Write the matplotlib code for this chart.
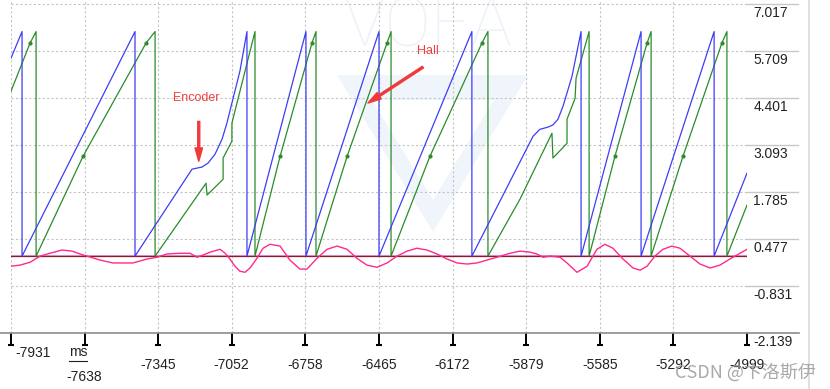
import matplotlib
matplotlib.use('Agg')
import matplotlib.pyplot as plt
import matplotlib.transforms as mtransforms
from matplotlib.lines import Line2D
from matplotlib.patches import Polygon

plt.rcParams['font.family'] = ['Liberation Sans', 'DejaVu Sans']

# axis ticks as VOFA+ shows them
xtick_labels = ['-7931', '-7638', '-7345', '-7052', '-6758', '-6465',
                '-6172', '-5879', '-5585', '-5292', '-4999']
ytick_values = [7.017, 5.709, 4.401, 3.093, 1.785, 0.477, -0.831, -2.139]

# encoder angle (blue)
enc_t = [-7931, -7887, -7887, -7437, -7437, -7210, -7170, -7146, -7118, -7090,
         -7071, -7051, -7019, -6991, -6991, -6756, -6756, -6465, -6465, -6095,
         -6095, -5851, -5824, -5792, -5772, -5752, -5732, -5716, -5696, -5660,
         -5660, -5421, -5421, -5130, -5130, -4999]
enc_v = [5.51, 6.25, 0.0, 6.25, 0.0, 2.42, 2.48, 2.59, 2.84, 3.26,
         3.70, 4.26, 5.15, 6.25, 0.0, 6.25, 0.0, 6.25, 0.0, 6.25,
         0.0, 3.34, 3.53, 3.59, 3.65, 3.81, 4.17, 4.54, 5.01, 6.25,
         0.0, 6.25, 0.0, 6.25, 0.0, 2.31]

# hall angle (green)
hall_t = [-7931, -7855, -7831, -7831, -7644, -7393, -7357, -7357, -7154, -7150,
          -7086, -7086, -7051, -7051, -6959, -6959, -6859, -6732, -6716, -6716,
          -6592, -6433, -6417, -6417, -6262, -6055, -6031, -6031, -5903, -5776,
          -5772, -5716, -5716, -5684, -5680, -5628, -5628, -5525, -5397, -5381,
          -5381, -5254, -5099, -5079, -5079, -4999]
hall_v = [4.59, 5.93, 6.25, 0.0, 2.78, 5.93, 6.25, 0.0, 2.03, 1.70,
          2.14, 2.73, 3.20, 3.70, 6.25, 0.0, 2.78, 5.93, 6.25, 0.0,
          2.78, 5.93, 6.25, 0.0, 2.78, 5.93, 6.25, 0.0, 1.59, 3.42,
          2.73, 3.14, 3.81, 4.39, 4.95, 6.25, 0.0, 2.78, 5.93, 6.25,
          0.0, 2.78, 5.93, 6.25, 0.0, 1.42]

# hall sector change points (small dots on green)
dot_t = [-7855, -7644, -7393, -6859, -6732, -6592, -6433, -6262, -6055,
         -5525, -5397, -5254, -5099]
dot_v = [5.93, 2.78, 5.93, 2.78, 5.93, 2.78, 5.93, 2.78, 5.93,
         2.78, 5.93, 2.78, 5.93]

# pink channel
pink_t = [-7931, -7895, -7855, -7815, -7776, -7728, -7688, -7656, -7628, -7576,
          -7525, -7485, -7445, -7389, -7349, -7310, -7258, -7218, -7190, -7166,
          -7138, -7098, -7078, -7059, -7039, -7019, -6999, -6979, -6951, -6927,
          -6899, -6859, -6820, -6780, -6752, -6712, -6672, -6632, -6592, -6553,
          -6513, -6473, -6433, -6393, -6353, -6314, -6274, -6234, -6194, -6154,
          -6114, -6075, -6035, -5995, -5943, -5903, -5863, -5836, -5812, -5784,
          -5744, -5716, -5676, -5636, -5597, -5565, -5533, -5493, -5453, -5425,
          -5397, -5366, -5334, -5298, -5266, -5226, -5186, -5146, -5107, -5067,
          -5027, -4999]
pink_v = [-0.28, -0.25, -0.17, 0.0, 0.08, 0.17, 0.14, 0.06, 0.0, -0.11,
          -0.19, -0.19, -0.19, -0.08, -0.03, 0.06, 0.08, 0.08, -0.03, 0.03,
          0.11, 0.19, 0.08, -0.08, -0.28, -0.42, -0.45, -0.33, -0.06, 0.22,
          0.33, 0.28, -0.11, -0.36, -0.36, -0.06, 0.19, 0.28, 0.19, -0.06,
          -0.25, -0.31, -0.19, 0.0, 0.14, 0.22, 0.17, 0.06, -0.08, -0.19,
          -0.22, -0.19, -0.11, -0.03, 0.08, 0.14, 0.11, 0.06, -0.03, 0.0,
          -0.03, -0.19, -0.45, -0.28, 0.19, 0.33, 0.22, -0.08, -0.33, -0.39,
          -0.28, 0.0, 0.19, 0.28, 0.22, 0.0, -0.22, -0.33, -0.25, -0.08,
          0.08, 0.19]

zero_v = 0.0

W, H = 830, 389
fig = plt.figure(figsize=(W / 100, H / 100), dpi=100)
ax = fig.add_axes([11 / W, 56 / H, 736 / W, 333 / H])
xticks = [float(s) for s in xtick_labels]
ax.set_xlim(xticks[0], xticks[-1])
ax.set_ylim(-2.139, 7.128)
for s in ax.spines.values():
    s.set_visible(False)

# faint VOFA watermark
ax.text(428 / W, 1 - 28 / H, 'VOFA', transform=fig.transFigure, ha='center', va='center',
        fontsize=50, family='Roboto', fontweight='light', color='#EEF3FA', zorder=0)
ax.add_patch(Polygon([(337 / W, 1 - 75 / H), (528 / W, 1 - 75 / H), (433 / W, 1 - 232 / H)],
                     closed=True, transform=fig.transFigure, color='#F0F5FC', lw=0, zorder=0))
ax.add_patch(Polygon([(372 / W, 1 - 100 / H), (494 / W, 1 - 100 / H), (433 / W, 1 - 200 / H)],
                     closed=True, transform=fig.transFigure, color='white', lw=0, zorder=0))

# grid
for v in ytick_values[:-1]:
    ax.axhline(v, color='#C4C4C4', lw=0.8, ls=(0, (2, 2)), zorder=1)
for x in xticks:
    ax.axvline(x, color='#C4C4C4', lw=0.8, ls=(0, (2, 2)), zorder=1)

# data
ax.axhline(zero_v + 0.04, color='#D9A0D9', lw=0.8, zorder=2)
ax.axhline(zero_v, color='#8B1A2A', lw=0.9, zorder=2)
ax.plot(pink_t, pink_v, color='#FF2A8A', lw=1.0, zorder=3)
ax.plot(hall_t, hall_v, color='#2A8C2A', lw=0.9, zorder=4)
ax.plot(dot_t, dot_v, 'o', color='#2A8C2A', ms=2, zorder=4)
ax.plot(enc_t, enc_v, color='#3D3DF5', lw=0.9, zorder=5)

# annotations
ax.annotate('', xy=(-7183, 2.64), xytext=(-7183, 3.75),
            arrowprops=dict(arrowstyle='simple,head_length=0.8,head_width=0.45,tail_width=0.12',
                            color='#F03A3A', mutation_scale=12, shrinkA=0, shrinkB=0), zorder=6)
ax.text(-7194, 4.39, 'Encoder', color='#F04040', fontsize=9, ha='center', va='center', zorder=6)
ax.annotate('', xy=(-6509, 4.26), xytext=(-6290, 5.26),
            arrowprops=dict(arrowstyle='simple,head_length=0.8,head_width=0.45,tail_width=0.12',
                            color='#F03A3A', mutation_scale=12, shrinkA=0, shrinkB=0), zorder=6)
ax.text(-6270, 5.70, 'Hall', color='#F04040', fontsize=9, ha='center', va='center', zorder=6)

# right value axis
ax.set_yticks([])
yb = mtransforms.blended_transform_factory(ax.transAxes, ax.transData)
ylab = mtransforms.offset_copy(yb, fig=fig, y=-2, units='dots')
for v in ytick_values:
    if v != ytick_values[-1]:
        ax.plot([1.0, 1.0693], [v, v], transform=yb, color='#C8C8C8', lw=1.0, clip_on=False)
    ax.text(1.0085, v, f'{v:.3f}', transform=ylab, ha='left', va='top', fontsize=10, color='#222222')

# bottom time axis
fig.add_artist(Line2D([0, 799 / W], [56 / H, 56 / H], color='#8C8C8C', lw=1.2))
fig.add_artist(Line2D([809 / W, 809 / W], [0, 1], color='#DADADA', lw=1.2))
ax.set_xticks(xticks)
ax.tick_params(axis='x', direction='out', length=8.6, width=1.4, color='black', labelbottom=False)
xb = mtransforms.blended_transform_factory(ax.transData, ax.transAxes)
ax.plot(xticks, [-0.036] * len(xticks), transform=xb, ls='none', marker='_', ms=4,
        mew=1.5, color='black', clip_on=False)
for i, (x, lab) in enumerate(zip(xticks, xtick_labels)):
    if i == 0:
        ax.text(x + 16, -0.060, lab, transform=xb, ha='left', va='center', fontsize=10, color='#222222')
    elif i == 1:
        ax.text(x, -0.132, lab, transform=xb, ha='center', va='center', fontsize=10, color='#222222')
    else:
        ax.text(x, -0.096, lab, transform=xb, ha='center', va='center', fontsize=10, color='#222222')
fig.text(78 / W, 1 - 352 / H, 'ms', ha='center', va='center', fontsize=10, color='#222222')
fig.add_artist(Line2D([69 / W, 87 / W], [1 - 361 / H] * 2, color='#222222', lw=0.8))

fig.text(745 / W, 1 - 372 / H, 'CSDN @卞洛斯伊', ha='center', va='center', fontsize=13,
         color='#9A9A9A', alpha=0.85, family=['Noto Sans CJK SC', 'DejaVu Sans'])

plt.savefig('out.png', dpi=100)
